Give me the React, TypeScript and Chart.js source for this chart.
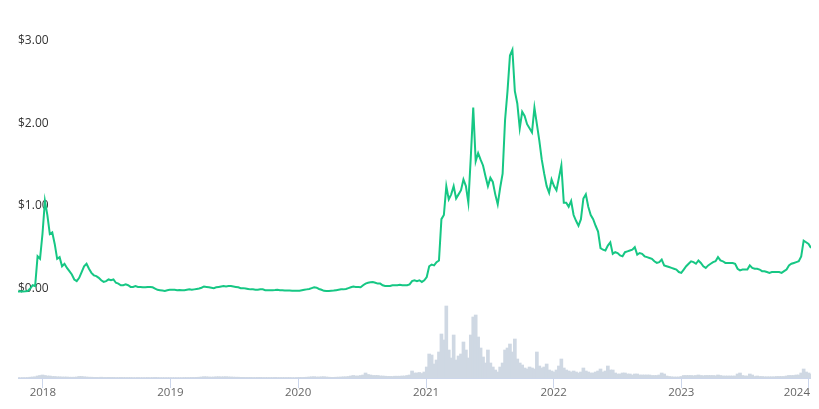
import { useEffect, useRef } from "react";
import { Chart, registerables } from "chart.js";

Chart.register(...registerables);

// Weekly samples (every 7 days) starting at this date
const startDate = "2017-10-22";
const stepDays = 7;

// Price in USD, one value per week
const priceValues: number[] = [
  // 2017
  0.025, 0.028, 0.024, 0.026, 0.03, 0.06, 0.1, 0.09, 0.45, 0.42, 0.72,
  // 2018
  1.12, 0.95, 0.72, 0.74, 0.6, 0.42, 0.44, 0.33,
  0.36, 0.31, 0.27, 0.23, 0.17, 0.15, 0.19, 0.26,
  0.33, 0.36, 0.3, 0.25, 0.22, 0.21, 0.19, 0.16,
  0.14, 0.15, 0.17, 0.16, 0.17, 0.13, 0.12, 0.1,
  0.1, 0.11, 0.1, 0.08, 0.08, 0.09, 0.08, 0.08,
  0.075, 0.075, 0.08, 0.08, 0.075, 0.06, 0.045, 0.04,
  0.035, 0.03, 0.04, 0.045,
  // 2019
  0.045, 0.045, 0.04, 0.042, 0.04, 0.04, 0.045, 0.05,
  0.045, 0.05, 0.055, 0.06, 0.07, 0.085, 0.08, 0.075,
  0.07, 0.065, 0.075, 0.08, 0.085, 0.09, 0.085, 0.09,
  0.09, 0.085, 0.08, 0.075, 0.065, 0.065, 0.06, 0.055,
  0.05, 0.05, 0.045, 0.045, 0.05, 0.05, 0.04, 0.04,
  0.04, 0.04, 0.042, 0.045, 0.04, 0.04, 0.037, 0.035,
  0.035, 0.033, 0.033, 0.033,
  // 2020
  0.034, 0.04, 0.045, 0.05, 0.055, 0.065, 0.075, 0.07,
  0.055, 0.045, 0.032, 0.03, 0.03, 0.033, 0.035, 0.04,
  0.045, 0.05, 0.05, 0.055, 0.065, 0.075, 0.085, 0.08,
  0.08, 0.075, 0.1, 0.12, 0.13, 0.135, 0.14, 0.13,
  0.12, 0.12, 0.1, 0.09, 0.09, 0.09, 0.1, 0.1,
  0.1, 0.105, 0.1, 0.1, 0.1, 0.11, 0.15, 0.16,
  0.15, 0.16, 0.14, 0.16,
  // 2021
  0.2, 0.33, 0.35, 0.34, 0.38, 0.4, 0.9, 0.95,
  1.3, 1.14, 1.2, 1.3, 1.15, 1.2, 1.25, 1.38,
  1.3, 1.1, 1.65, 2.25, 1.6, 1.7, 1.62, 1.55,
  1.42, 1.3, 1.4, 1.35, 1.2, 1.08, 1.28, 1.45,
  2.1, 2.45, 2.88, 2.95, 2.45, 2.3, 2.0, 2.2,
  2.15, 2.05, 2.0, 1.95, 2.25, 2.05, 1.85, 1.62,
  1.45, 1.3, 1.22, 1.38,
  // 2022
  1.3, 1.25, 1.4, 1.55, 1.1, 1.1, 1.05, 1.12,
  0.95, 0.88, 0.82, 0.9, 1.15, 1.2, 1.05, 0.95,
  0.9, 0.82, 0.75, 0.55, 0.53, 0.52, 0.58, 0.62,
  0.48, 0.5, 0.49, 0.46, 0.45, 0.5, 0.51, 0.52,
  0.53, 0.56, 0.47, 0.49, 0.48, 0.45, 0.44, 0.43,
  0.42, 0.39, 0.37, 0.38, 0.41, 0.34, 0.33, 0.32,
  0.31, 0.3, 0.29, 0.26,
  // 2023 - Jan 2024
  0.25, 0.29, 0.33, 0.36, 0.39, 0.38, 0.36, 0.4,
  0.37, 0.33, 0.31, 0.34, 0.36, 0.38, 0.39, 0.44,
  0.4, 0.39, 0.37, 0.37, 0.37, 0.37, 0.36, 0.3,
  0.28, 0.29, 0.29, 0.29, 0.34, 0.31, 0.3, 0.3,
  0.29, 0.27, 0.27, 0.26, 0.25, 0.26, 0.26, 0.26,
  0.26, 0.25, 0.27, 0.29, 0.34, 0.36, 0.37, 0.38,
  0.39, 0.45, 0.64, 0.62, 0.6,
  0.55,
];

// Trading volume, relative units (~0.25 B USD each), one value per week
const volumeValues: number[] = [
  // 2017
  0.3, 0.3, 0.4, 0.4, 0.5, 0.8, 1, 1.2, 2, 2.5, 3,
  // 2018
  2.5, 2, 2, 1.5,
  1.5, 1.2, 1.2, 1, 1, 1, 0.8, 0.8,
  0.8, 1, 1.5, 1.5, 1.2, 1, 0.8, 0.8,
  0.7, 0.7, 0.6, 0.8, 0.6, 0.6, 0.7, 0.6,
  0.6, 0.5, 0.5, 0.6, 0.5, 0.5, 0.5, 0.5,
  0.4, 0.4, 0.5, 0.4, 0.4, 0.4, 0.5, 0.4,
  0.5, 0.6, 0.5, 0.4, 0.4, 0.4, 0.4, 0.4,
  // 2019
  0.4, 0.4, 0.4, 0.4, 0.4, 0.5, 0.5, 0.5,
  0.6, 0.6, 0.7, 0.8, 1, 1.3, 1.2, 1,
  0.9, 1, 1.2, 1.3, 1.1, 1.2, 1.3, 1.1,
  1, 0.9, 0.8, 0.8, 0.7, 0.7, 0.6, 0.6,
  0.6, 0.5, 0.5, 0.6, 0.6, 0.5, 0.5, 0.5,
  0.5, 0.5, 0.6, 0.5, 0.5, 0.5, 0.5, 0.5,
  0.5, 0.4, 0.4, 0.5,
  // 2020
  0.6, 0.6, 0.7, 0.8, 1, 1.2, 1.3, 1,
  1, 1.2, 1.3, 1, 0.8, 0.7, 0.7, 0.8,
  0.9, 1, 1.2, 1.2, 1.5, 2, 2.5, 2,
  2, 2.5, 3, 5, 3.5, 3, 2.5, 2.5,
  2.5, 2, 2, 1.8, 1.6, 1.6, 1.5, 1.8,
  1.8, 1.8, 2, 2, 2.5, 3, 7, 5,
  5, 5.5, 4.5, 6,
  // 2021
  11, 24, 23, 14, 18, 26, 44, 38,
  72, 28, 20, 43, 18, 22, 24, 36,
  28, 20, 43, 61, 63, 41, 30, 21,
  15, 28, 15, 11, 8, 6, 11, 15,
  28, 30, 34, 26, 39, 19, 15, 13,
  10, 9, 11, 10, 9, 26, 12, 10,
  11, 14, 8, 7,
  // 2022
  6, 8, 12, 19, 10, 8, 7, 6,
  7, 6, 5, 6, 10, 7, 6, 5,
  5, 6, 7, 9, 6, 7, 12, 8,
  8, 5, 4, 4, 5, 5, 4, 4,
  3, 4, 4, 3, 3, 3, 3, 3,
  2.5, 2.5, 2.5, 3, 5, 4, 2, 1.5,
  1.2, 1, 1, 1,
  // 2023 - Jan 2024
  1.5, 2.5, 2.5, 2.5, 2.5, 2.2, 2.5, 3,
  2.5, 2.2, 2.5, 2.5, 2.5, 2.5, 2.2, 3,
  2.5, 2, 2, 2, 2, 2, 2, 4,
  5, 2.5, 2, 2, 4, 3, 1.5, 2,
  1.5, 1.5, 1.2, 1.2, 1.2, 1.2, 1.2, 1.5,
  1.5, 1.5, 1.5, 2, 2.5, 2.5, 2.5, 3,
  3, 5, 9, 6, 5,
  4,
];

const yearTicks = [2018, 2019, 2020, 2021, 2022, 2023, 2024];
const priceTicks = [0, 1, 2, 3];

const DAY = 86400000;

export default function App() {
  const ref = useRef<HTMLCanvasElement | null>(null);

  useEffect(() => {
    if (!ref.current) return;
    const t0 = Date.parse(startDate + "T00:00:00Z");
    const xAt = (i: number) => t0 + i * stepDays * DAY;
    const priceData = priceValues.map((v, i) => ({ x: xAt(i), y: v }));
    const volumeData = volumeValues.map((v, i) => ({ x: xAt(i), y: v }));
    const xMin = xAt(0);
    const xMax = xAt(Math.max(priceValues.length, volumeValues.length) - 1);

    const yearLabels = {
      id: "yearLabels",
      afterDraw(chart: any) {
        const { ctx, chartArea } = chart;
        const xs = chart.scales.x;
        ctx.save();
        ctx.font = '11.5px "Open Sans"';
        ctx.fillStyle = "#666666";
        ctx.textAlign = "center";
        ctx.textBaseline = "middle";
        for (const yr of yearTicks) {
          const label = String(yr);
          const w = ctx.measureText(label).width;
          let px = xs.getPixelForValue(Date.UTC(yr, 0, 1));
          px = Math.min(px, chart.width - w / 2 - 1);
          ctx.fillText(label, px, chartArea.bottom + 15);
        }
        ctx.restore();
      },
    };

    const chart = new Chart(ref.current, {
      type: "line",
      data: {
        datasets: [
          {
            type: "line",
            data: priceData,
            yAxisID: "price",
            borderColor: "#16c784",
            borderWidth: 2,
            pointRadius: 0,
            tension: 0,
            fill: false,
            order: 0,
          } as any,
          {
            type: "bar",
            data: volumeData,
            yAxisID: "volume",
            backgroundColor: "#cfd8e3",
            borderWidth: 0,
            barThickness: 3,
            order: 1,
          } as any,
        ],
      },
      options: {
        animation: false,
        responsive: false,
        events: [],
        layout: { padding: { left: 10, right: 0, top: 12, bottom: 13 } },
        plugins: { legend: { display: false }, tooltip: { enabled: false } },
        scales: {
          x: {
            type: "linear",
            min: xMin,
            max: xMax,
            offset: false,
            afterBuildTicks: (axis: any) => {
              axis.ticks = yearTicks.map((y) => ({ value: Date.UTC(y, 0, 1) }));
            },
            grid: {
              display: true,
              drawOnChartArea: false,
              drawTicks: true,
              tickLength: 10,
              tickColor: "#ccd6eb",
              offset: false,
            },
            border: { display: true, color: "#ccd6eb", width: 1 },
            ticks: { display: false },
          },
          price: {
            type: "linear",
            position: "left",
            min: -1.023,
            max: 3.311,
            afterBuildTicks: (axis: any) => {
              axis.ticks = priceTicks.map((v) => ({ value: v }));
            },
            grid: { display: false, drawTicks: false, tickLength: 0 },
            border: { display: false },
            ticks: {
              mirror: true,
              padding: 0,
              labelOffset: -5,
              color: "#333333",
              font: { family: '"Open Sans"', size: 12 },
              callback: (v: any) => "$" + Number(v).toFixed(2),
            },
          },
          volume: {
            type: "linear",
            position: "right",
            display: false,
            min: 0,
            max: 358,
          },
        },
      },
      plugins: [yearLabels],
    } as any);

    return () => chart.destroy();
  }, []);

  return (
    <canvas
      ref={ref}
      width={803}
      height={393}
      style={{ display: "block", width: 803, height: 393 }}
    />
  );
}
